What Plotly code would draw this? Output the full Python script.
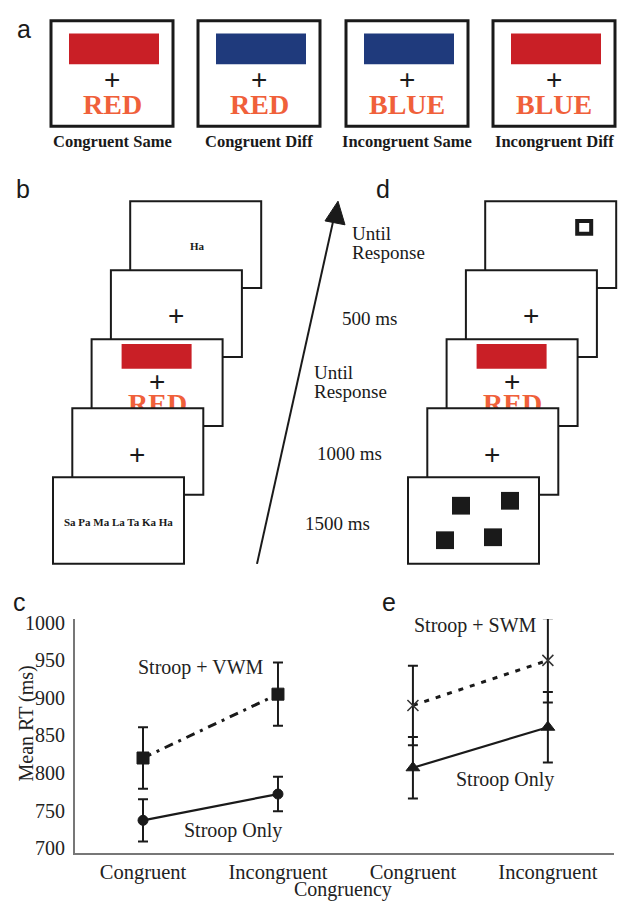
import plotly.graph_objects as go

W, H = 618, 903
SERIF = "Liberation Serif"
SANS = "Liberation Sans"
INK = "#1a1a1a"
RED = "#c91f26"
BLUE = "#1f3a7c"
ORANGE = "#f0603a"

# ---------------- data: panels c and e ----------------
conditions = ["Congruent", "Incongruent"]
vwm_mean = [820, 905]
vwm_err = [41, 42]
only_c_mean = [737, 772]
only_c_err = [28, 23]
swm_mean = [890, 950]
swm_err = [53, 56]
only_e_mean = [807, 861]
only_e_err = [41, 47]
y_ticks = [700, 750, 800, 850, 900, 950, 1000]

# ---------------- panel a content ----------------
a_labels = ["Congruent Same", "Congruent Diff", "Incongruent Same", "Incongruent Diff"]
a_words = ["RED", "RED", "BLUE", "BLUE"]
a_patches = [RED, BLUE, BLUE, RED]

# ---------------- panel b / d timing labels ----------------
timing_text = ["500 ms", "1000 ms", "1500 ms"]
b_word_list = "Sa Pa Ma La Ta Ka Ha"
b_probe = "Ha"

x_c = [i for i in range(len(conditions))]
x_e = [i + len(conditions) for i in range(len(conditions))]
tick_text = conditions + conditions

fig = go.Figure()


def add_series(x, y, err, symbol, dash, msize, lw, mcolor=INK, mline=1):
    fig.add_trace(go.Scatter(
        x=x, y=y, mode="lines+markers", showlegend=False, hoverinfo="skip",
        line=dict(color=INK, width=lw, dash=dash),
        marker=dict(symbol=symbol, size=msize, color=mcolor,
                    line=dict(color=mcolor, width=mline)),
        error_y=dict(type="data", array=err, visible=True, color=INK,
                     thickness=2, width=5),
        xaxis="x", yaxis="y"))


add_series(x_c, vwm_mean, vwm_err, "square", "9px,6px,3px,6px", 12, 3)
add_series(x_c, only_c_mean, only_c_err, "circle", "solid", 10, 2.2)
add_series(x_e, swm_mean, swm_err, "x-thin", "5px,7px", 11, 3, "#333", 1.5)
add_series(x_e, only_e_mean, only_e_err, "triangle-up", "solid", 12, 2.2)

shapes = []
annotations = []


def rect(x0, y0, x1, y1, lw=2, fill="white", color=INK, layer="below"):
    shapes.append(dict(type="rect", xref="x2", yref="y2", x0=x0, y0=y0, x1=x1, y1=y1,
                       line=dict(color=color, width=lw), fillcolor=fill, layer=layer))


def text(x, y, s, size=19, color=INK, family=SERIF, bold=False, xanchor="center",
         yanchor="middle", angle=0):
    annotations.append(dict(xref="x2", yref="y2", x=x, y=y, text=s, showarrow=False,
                            font=dict(family=family, size=size, color=color,
                                      weight="bold" if bold else "normal"),
                            xanchor=xanchor, yanchor=yanchor, textangle=angle))


# ---------------- panel a ----------------
text(24, 22, "a", size=25, family=SANS)
a_left = [51, 198, 346, 493]
for i, left in enumerate(a_left):
    rect(left, 14, left + 122, 121, lw=3)
    shapes.append(dict(type="rect", xref="x2", yref="y2", x0=left + 18, y0=27,
                       x1=left + 108, y1=58, line=dict(width=0), fillcolor=a_patches[i],
                       layer="below"))
    cx = left + 61
    text(cx, 74, "+", size=28, family=SANS)
    text(cx, 99, a_words[i], size=28, color=ORANGE, bold=True)
    text(cx, 136, a_labels[i], size=16.5, bold=True)

# ---------------- panels b and d ----------------
text(23, 185, "b", size=25, family=SANS)
text(383, 185, "d", size=25, family=SANS)

CW, CH = 131, 88
for base, panel in [(53, "b"), (408, "d")]:
    lefts = [base + 19.3 * i for i in range(5)]
    tops = [477 - 70 * i for i in range(5)]
    for i in range(4, -1, -1):
        L, T = lefts[i], tops[i]
        layer = "below" if i >= 2 else "above"
        rect(L, T, L + CW, T + CH, lw=2, layer=layer)
        if i == 2:
            shapes.append(dict(type="rect", xref="x2", yref="y2", x0=L + 30, y0=T + 5,
                               x1=L + 100, y1=T + 30, line=dict(width=0),
                               fillcolor=RED, layer="below"))
    L4, T4 = lefts[4], tops[4]
    if panel == "b":
        text(L4 + 67, T4 + 45, b_probe, size=11, bold=True)
        text(lefts[0] + 65, tops[0] + 46, b_word_list, size=11, bold=True)
    else:
        shapes.append(dict(type="rect", xref="x2", yref="y2", x0=L4 + 92, y0=T4 + 20,
                           x1=L4 + 106, y1=T4 + 33, line=dict(color=INK, width=4),
                           fillcolor="white", layer="below"))
        L0, T0 = lefts[0], tops[0]
        for dx, dy in [(44, 20), (93, 15), (28, 55), (76, 52)]:
            shapes.append(dict(type="rect", xref="x2", yref="y2", x0=L0 + dx, y0=T0 + dy,
                               x1=L0 + dx + 18, y1=T0 + dy + 18, line=dict(width=0),
                               fillcolor=INK, layer="above"))
    text(lefts[3] + 65, tops[3] + 46, "+", size=28, family=SANS)
    text(lefts[2] + 65, tops[2] + 43, "+", size=28, family=SANS)
    text(lefts[1] + 65, tops[1] + 47, "+", size=28, family=SANS)
    # RED word on card 3, partly hidden by card 2 (drawn as trace so cards can cover it)
    fig.add_trace(go.Scatter(
        x=[lefts[2] + 66], y=[tops[2] + 68], mode="text", text=["RED"],
        textfont=dict(family=SERIF, size=28, color=ORANGE, weight="bold"),
        textposition="middle center", showlegend=False, hoverinfo="skip",
        xaxis="x2", yaxis="y2"))

# arrow
shapes.append(dict(type="line", xref="x2", yref="y2", x0=257, y0=565, x1=333, y1=218,
                   line=dict(color=INK, width=2), layer="above"))
shapes.append(dict(type="path", xref="x2", yref="y2",
                   path="M 338 197 L 345 221 L 325 217 Z",
                   fillcolor=INK, line=dict(color=INK, width=1), layer="above"))

# timing labels
text(350, 230, "Until", size=19, xanchor="left")
text(350, 249, "Response", size=19, xanchor="left")
text(369, 316, timing_text[0], size=19)
text(312, 371, "Until", size=19, xanchor="left")
text(312, 390, "Response", size=19, xanchor="left")
text(349, 453, timing_text[1], size=19)
text(337, 524, timing_text[2], size=19)

# ---------------- panel c / e labels ----------------
text(19, 604, "c", size=25, family=SANS)
text(389, 604, "e", size=25, family=SANS)
text(27, 727, "Mean RT (ms)", size=20, angle=-90, color="#222")
text(343, 895, "Congruency", size=20, color="#222")


def data_label(x, y, s):
    annotations.append(dict(xref="x", yref="y", x=x, y=y, text=s, showarrow=False,
                            font=dict(family=SERIF, size=20, color="#222"),
                            xanchor="center", yanchor="middle"))


data_label(0.43, 940, "Stroop + VWM")
data_label(0.67, 723, "Stroop Only")
data_label(2.46, 997, "Stroop + SWM")
data_label(2.68, 792, "Stroop Only")

fig.update_layout(
    width=W, height=H, autosize=False,
    margin=dict(l=0, r=0, t=0, b=0),
    paper_bgcolor="white", plot_bgcolor="rgba(0,0,0,0)",
    font=dict(family=SERIF, color="#222"),
    shapes=shapes, annotations=annotations,
    xaxis=dict(domain=[75 / W, 614 / W], range=[-0.504, 3.49], anchor="y",
               tickmode="array", tickvals=x_c + x_e, ticktext=tick_text,
               tickfont=dict(family=SERIF, size=20.5, color="#222"),
               showline=True, linecolor="#777", linewidth=2, showgrid=False,
               zeroline=False, ticks="", fixedrange=True),
    yaxis=dict(domain=[1 - 858 / H, 1 - 621 / H], range=[694, 1005], anchor="x",
               tickmode="array", tickvals=y_ticks,
               tickfont=dict(family=SERIF, size=20, color="#222"),
               showline=True, linecolor="#777", linewidth=2, showgrid=False,
               zeroline=False, ticks="outside", ticklen=4,
               tickcolor="rgba(0,0,0,0)", fixedrange=True),
    xaxis2=dict(domain=[0, 1], range=[0, W], anchor="y2", visible=False,
                fixedrange=True),
    yaxis2=dict(domain=[0, 1], range=[H, 0], anchor="x2", visible=False,
                fixedrange=True),
)

fig.write_html("out.html", config={"displayModeBar": False},
               post_script="document.body.style.margin='0';document.body.style.padding='0';document.body.style.overflow='hidden';")
